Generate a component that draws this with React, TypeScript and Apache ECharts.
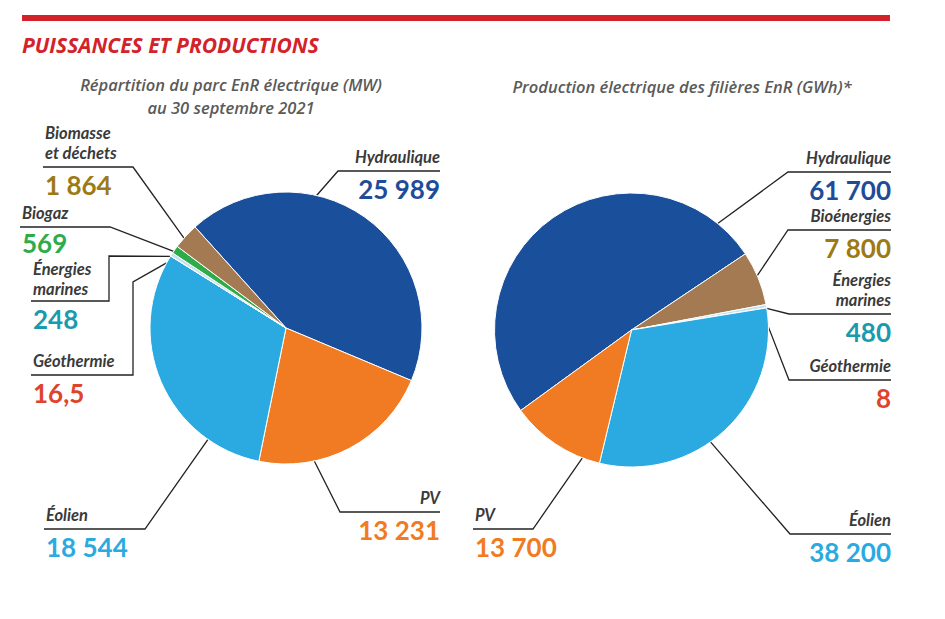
import React, { useEffect, useRef } from 'react';
import * as echarts from 'echarts';

// ---------- Data ----------
const CAPACITY_CATEGORIES = ['Hydraulique', 'PV', 'Éolien', 'Géothermie', 'Énergies marines', 'Biogaz', 'Biomasse et déchets'];
const CAPACITY_MW = [25989, 13231, 18544, 16.5, 248, 569, 1864];

const PRODUCTION_CATEGORIES = ['Hydraulique', 'Bioénergies', 'Énergies marines', 'Géothermie', 'Éolien', 'PV'];
const PRODUCTION_GWH = [61700, 7800, 480, 8, 38200, 13700];

const DISPLAY_NAMES: Record<string, string> = {
  'Énergies marines': 'Énergies\nmarines',
  'Biomasse et déchets': 'Biomasse\net déchets',
};

const SLICE_COLORS: Record<string, string> = {
  'Hydraulique': '#1a4f9b',
  'PV': '#f07b22',
  'Éolien': '#2aaae1',
  'Géothermie': '#f4b48a',
  'Énergies marines': '#c4e2f1',
  'Biogaz': '#2fac4a',
  'Biomasse et déchets': '#a37a51',
  'Bioénergies': '#a37a51',
};

const VALUE_COLORS: Record<string, string> = {
  'Hydraulique': '#1f4c98',
  'PV': '#f07b22',
  'Éolien': '#2aaae1',
  'Géothermie': '#e0432c',
  'Énergies marines': '#1b9aae',
  'Biogaz': '#2fac4a',
  'Biomasse et déchets': '#9c7a15',
  'Bioénergies': '#9c7a15',
};

// ---------- Layout (positions only) ----------
type LabelCfg = { angle: number; path: number[][]; side: 'left' | 'right'; nameDy?: number; valueDy?: number };

const LEFT_PIE = { cx: 286, cy: 328, r: 136, startAngle: 132 };
const RIGHT_PIE = { cx: 631.5, cy: 330, r: 137, startAngle: 216 };

const LEFT_LABELS: Record<string, LabelCfg> = {
  'Hydraulique': { angle: 77, path: [[338, 171], [440, 171]], side: 'right' },
  'PV': { angle: -78, path: [[340, 512], [440, 512]], side: 'right' },
  'Éolien': { angle: -125, path: [[145, 529], [44, 529]], side: 'left' },
  'Géothermie': { angle: 151.4, path: [[133, 282], [133, 375], [31, 375]], side: 'left' },
  'Énergies marines': { angle: 148.2, path: [[109, 256], [109, 301], [31, 301]], side: 'left', nameDy: 2 },
  'Biogaz': { angle: 145.7, path: [[110, 227], [20, 227]], side: 'left', valueDy: -2 },
  'Biomasse et déchets': { angle: 138.6, path: [[133, 167], [43, 167]], side: 'left' },
};

const RIGHT_LABELS: Record<string, LabelCfg> = {
  'Hydraulique': { angle: 51, path: [[788, 172], [891, 172]], side: 'right' },
  'Bioénergies': { angle: 23.4, path: [[788, 230], [891, 230]], side: 'right' },
  'Énergies marines': { angle: 9.1, path: [[789, 314], [891, 314]], side: 'right' },
  'Géothermie': { angle: 1.2, path: [[789, 380], [891, 380]], side: 'right' },
  'Éolien': { angle: -54.8, path: [[790, 534], [891, 534]], side: 'right' },
  'PV': { angle: -111, path: [[533, 529], [473, 529]], side: 'left' },
};

const NUM_FONT = 'Lato, "Open Sans", sans-serif';
const NAME_FONT = 'Lato, "Open Sans", sans-serif';
const TEXT_FONT = '"Open Sans", "Noto Sans", sans-serif';
const NAME_LH = 20;
const GAP = 8.5;

const formatFr = (v: number) => {
  const [i, d] = String(v).split('.');
  const int = i.replace(/\B(?=(\d{3})+(?!\d))/g, ' ');
  return d ? `${int},${d}` : int;
};

const displayName = (n: string) => DISPLAY_NAMES[n] || n;

function buildPie(categories: string[], values: number[], pie: typeof LEFT_PIE, labels: Record<string, LabelCfg>) {
  const rich: Record<string, any> = {};
  categories.forEach((c, i) => {
    const L = labels[c];
    const side = L.side;
    rich[`g${i}`] = { fontSize: 1, lineHeight: GAP - (L.nameDy || 0) + (L.valueDy || 0) };
    rich[`n${i}`] = {
      fontFamily: NAME_FONT, fontStyle: 'italic', fontWeight: 'bold', fontSize: 16.5, color: '#3a3a3a',
      lineHeight: NAME_LH, align: side,
    };
    rich[`v${i}`] = {
      fontFamily: NUM_FONT, fontWeight: 'bold', fontSize: 26, color: VALUE_COLORS[c],
      lineHeight: 28, align: side,
    };
  });
  return {
    type: 'pie',
    center: [pie.cx, pie.cy],
    radius: pie.r,
    startAngle: pie.startAngle,
    clockwise: true,
    avoidLabelOverlap: false,
    silent: true,
    minShowLabelAngle: 0,
    itemStyle: { borderColor: '#ffffff', borderWidth: 1 },
    data: categories.map((c, i) => ({ name: c, value: values[i], itemStyle: { color: SLICE_COLORS[c] } })),
    label: {
      show: true,
      position: 'outside',
      width: 160,
      overflow: 'none',
      formatter: (p: any) => {
        const i = p.dataIndex;
        const lines = displayName(p.name).split('\n');
        return lines.map((l) => `{n${i}|${l}}`).join('\n') + `\n{g${i}| }\n{v${i}|${formatFr(p.value)}}`;
      },
      rich,
    },
    labelLine: { show: true, length: 10, length2: 10, lineStyle: { color: '#222222', width: 1.3 } },
    labelLayout: (params: any) => {
      const name = categories[params.dataIndex];
      const L = labels[name];
      const a = (L.angle * Math.PI) / 180;
      const p0 = [pie.cx + pie.r * Math.cos(a), pie.cy - pie.r * Math.sin(a)];
      const end = L.path[L.path.length - 1];
      const k = displayName(name).split('\n').length;
      return {
        x: L.side === 'right' ? end[0] : end[0] + 2,
        y: end[1] - NAME_LH * k - 4.5 + (L.nameDy || 0),
        align: L.side,
        verticalAlign: 'top',
        labelLinePoints: [p0, ...L.path],
      };
    },
  };
}

export default function App() {
  const ref = useRef<HTMLDivElement>(null);
  useEffect(() => {
    if (!ref.current) return;
    const chart = echarts.init(ref.current, null, { renderer: 'svg' });
    const sub = { fill: '#5a5a5a', fontFamily: TEXT_FONT, fontStyle: 'italic', fontWeight: 600, fontSize: 16.5, verticalAlign: 'middle', align: 'center' };
    chart.setOption({
      animation: false,
      backgroundColor: '#ffffff',
      graphic: [
        { type: 'rect', shape: { x: 22, y: 15, width: 868, height: 6 }, style: { fill: '#d3222a' } },
        {
          type: 'text', x: 22, y: 45,
          style: { text: 'PUISSANCES ET PRODUCTIONS', fill: '#d3222a', fontFamily: TEXT_FONT, fontStyle: 'italic', fontWeight: 'bold', fontSize: 21, verticalAlign: 'middle', align: 'left' },
        },
        { type: 'text', x: 231, y: 84.5, style: { ...sub, text: 'Répartition du parc EnR électrique (MW)' } },
        { type: 'text', x: 231, y: 107.5, style: { ...sub, text: 'au 30 septembre 2021' } },
        { type: 'text', x: 682, y: 86, style: { ...sub, text: 'Production électrique des filières EnR (GWh)*' } },
      ],
      series: [
        buildPie(CAPACITY_CATEGORIES, CAPACITY_MW, LEFT_PIE, LEFT_LABELS),
        buildPie(PRODUCTION_CATEGORIES, PRODUCTION_GWH, RIGHT_PIE, RIGHT_LABELS),
      ],
    });
    return () => chart.dispose();
  }, []);
  return <div ref={ref} style={{ position: 'fixed', left: 0, top: 0, width: 945, height: 619 }} />;
}
